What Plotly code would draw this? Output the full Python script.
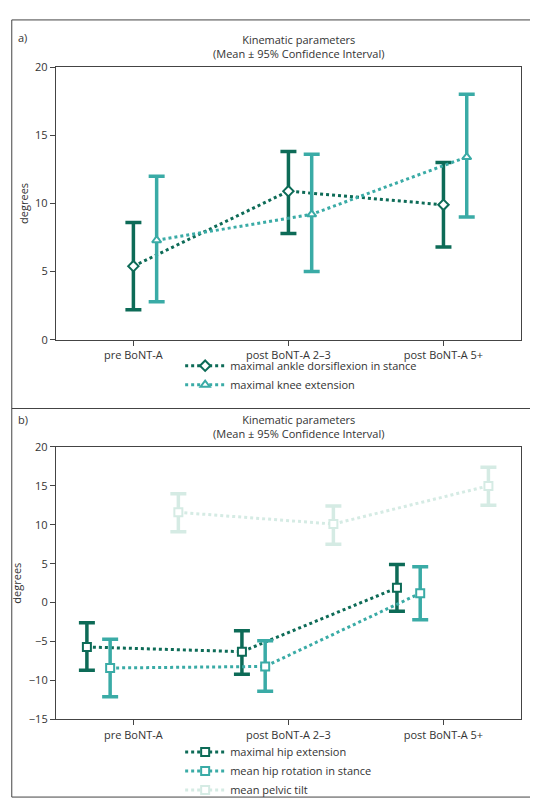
import plotly.graph_objects as go

categories = ["pre BoNT-A", "post BoNT-A 2–3", "post BoNT-A 5+"]

ankle_mean = [5.4, 10.9, 9.9]
ankle_lo = [2.2, 7.8, 6.8]
ankle_hi = [8.6, 13.8, 13.0]
knee_mean = [7.3, 9.2, 13.4]
knee_lo = [2.8, 5.0, 9.0]
knee_hi = [12.0, 13.6, 18.0]

hipext_mean = [-5.7, -6.3, 1.9]
hipext_lo = [-8.7, -9.2, -1.1]
hipext_hi = [-2.6, -3.6, 4.9]
hiprot_mean = [-8.4, -8.2, 1.2]
hiprot_lo = [-12.1, -11.4, -2.2]
hiprot_hi = [-4.7, -4.9, 4.6]
pelvic_mean = [11.6, 10.1, 15.0]
pelvic_lo = [9.1, 7.5, 12.5]
pelvic_hi = [14.0, 12.4, 17.4]

DARK, TEAL, LIGHT = "#0d6b57", "#3aaba6", "#d5ebe4"
FONT = "Open Sans"

fig = go.Figure()

def add(name, mean, lo, hi, off, color, symbol, xa, ya, legend):
    xs = [i + off for i in range(len(mean))]
    fig.add_trace(go.Scatter(
        x=xs, y=mean, name=name, mode="lines+markers",
        line=dict(color=color, width=3, dash="dot"),
        marker=dict(symbol=symbol, size=8, color="white", line=dict(color=color, width=2)),
        error_y=dict(type="data", symmetric=False,
                     array=[h - m for h, m in zip(hi, mean)],
                     arrayminus=[m - l for m, l in zip(mean, lo)],
                     color=color, thickness=3.5, width=8),
        xaxis=xa, yaxis=ya, legend=legend))

add("maximal ankle dorsiflexion in stance", ankle_mean, ankle_lo, ankle_hi, 0.0, DARK, "diamond", "x", "y", "legend")
add("maximal knee extension", knee_mean, knee_lo, knee_hi, 0.15, TEAL, "triangle-up", "x", "y", "legend")
add("maximal hip extension", hipext_mean, hipext_lo, hipext_hi, -0.3, DARK, "square", "x2", "y2", "legend2")
add("mean hip rotation in stance", hiprot_mean, hiprot_lo, hiprot_hi, -0.15, TEAL, "square", "x2", "y2", "legend2")
add("mean pelvic tilt", pelvic_mean, pelvic_lo, pelvic_hi, 0.29, LIGHT, "square", "x2", "y2", "legend2")

axis_common = dict(showline=True, linecolor="#444", linewidth=1, mirror=True, showgrid=False,
                   zeroline=False, ticks="outside", ticklen=5, tickcolor="#444",
                   tickfont=dict(size=11, color="#333", family=FONT))
xdom = [0.089, 0.9535]
fig.update_layout(
    width=538, height=800, margin=dict(l=0, r=0, t=0, b=0),
    paper_bgcolor="white", plot_bgcolor="white",
    font=dict(family=FONT, size=11, color="#333"),
    xaxis=dict(domain=xdom, range=[-0.5, 2.5], tickvals=[0, 1, 2], ticktext=categories, anchor="y", **axis_common),
    yaxis=dict(domain=[0.5875, 0.935], range=[0, 20], dtick=5, anchor="x",
               title=dict(text="degrees", standoff=4, font=dict(size=11)), **axis_common),
    xaxis2=dict(domain=xdom, range=[-0.5, 2.5], tickvals=[0, 1, 2], ticktext=categories, anchor="y2", **axis_common),
    yaxis2=dict(domain=[0.104, 0.451], range=[-15, 20], dtick=5, anchor="x2",
                title=dict(text="degrees", standoff=4, font=dict(size=11)), **axis_common),
    legend=dict(x=0.32, y=0.573, xanchor="left", yanchor="top", bgcolor="rgba(0,0,0,0)",
                font=dict(size=11), tracegroupgap=0, itemwidth=40),
    legend2=dict(x=0.32, y=0.081, xanchor="left", yanchor="top", bgcolor="rgba(0,0,0,0)",
                 font=dict(size=11), tracegroupgap=0, itemwidth=40),
    showlegend=True,
)
for y0, y1 in [(0.50, 0.995), (0.005, 0.50)]:
    fig.add_shape(type="rect", xref="paper", yref="paper", x0=0.007, x1=0.993, y0=y0, y1=y1,
                  line=dict(color="#444", width=1))
title = "Kinematic parameters<br>(Mean ± 95% Confidence Interval)"
fig.add_annotation(text=title, xref="paper", yref="paper", x=0.54, y=0.94, yanchor="bottom",
                   showarrow=False, font=dict(size=11))
fig.add_annotation(text=title, xref="paper", yref="paper", x=0.54, y=0.456, yanchor="bottom",
                   showarrow=False, font=dict(size=11))
fig.add_annotation(text="a)", xref="paper", yref="paper", x=0.015, y=0.985, xanchor="left", yanchor="top",
                   showarrow=False, font=dict(size=11))
fig.add_annotation(text="b)", xref="paper", yref="paper", x=0.015, y=0.498, xanchor="left", yanchor="top",
                   showarrow=False, font=dict(size=11))
fig.write_html("out.html")
